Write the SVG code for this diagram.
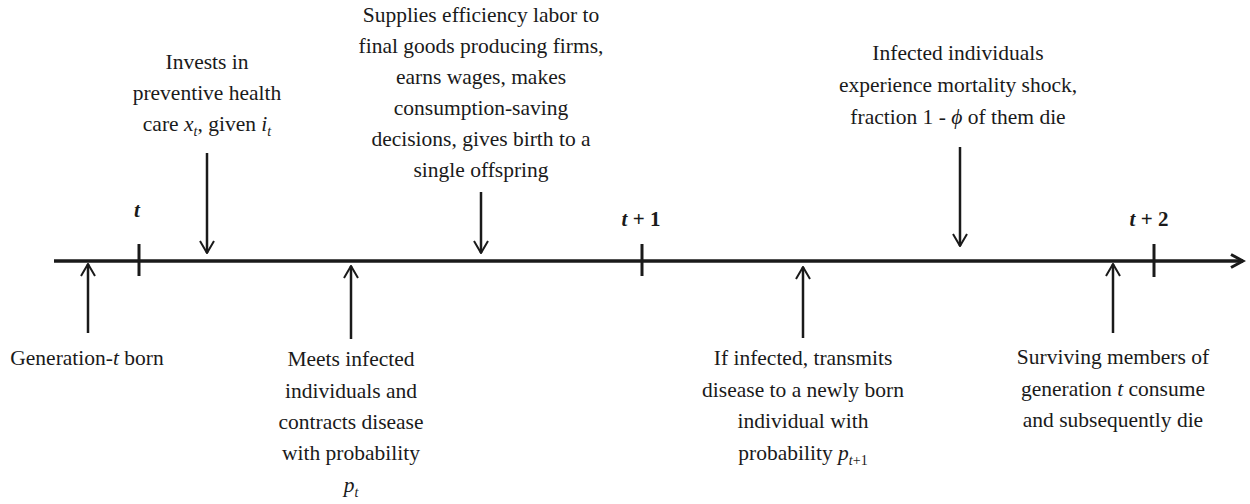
<svg xmlns="http://www.w3.org/2000/svg" width="1250" height="504" viewBox="0 0 1250 504">
  <style>
    .lbl { font-family: "Liberation Serif", "Times New Roman", serif; font-size: 21.5px; fill: #1a1a1a; text-anchor: middle; }
    .tick-lbl { font-family: "Liberation Serif", "Times New Roman", serif; font-size: 21px; font-weight: bold; fill: #1a1a1a; text-anchor: middle; }
    .it { font-style: italic; }
    .sub { font-size: 14px; }
    .arrow { stroke: #1a1a1a; stroke-width: 2.5; fill: none; marker-end: url(#head); }
    .axis { stroke: #1a1a1a; stroke-width: 3.5; fill: none; }
    .tick { stroke: #1a1a1a; stroke-width: 3; }
  </style>
  <defs>
    <marker id="head" markerUnits="userSpaceOnUse" viewBox="0 0 14 16" refX="13" refY="8" markerWidth="14" markerHeight="16" orient="auto">
      <path d="M1,1 L13,8 L1,15" fill="none" stroke="#1a1a1a" stroke-width="2"/>
    </marker>
    <marker id="axhead" markerUnits="userSpaceOnUse" viewBox="0 0 16 16" refX="13" refY="8" markerWidth="16" markerHeight="16" orient="auto">
      <path d="M1,1.5 L13,8 L1,14.5" fill="none" stroke="#1a1a1a" stroke-width="3"/>
    </marker>
  </defs>

  <g id="timeline">
    <line class="axis" x1="54" y1="261" x2="1243" y2="261" marker-end="url(#axhead)"/>
    <line class="tick" x1="139" y1="244" x2="139" y2="276"/>
    <line class="tick" x1="642" y1="244" x2="642" y2="276"/>
    <line class="tick" x1="1154" y1="244" x2="1154" y2="277"/>
  </g>

  <g id="tick-t">
    <text class="tick-lbl" x="137" y="217"><tspan class="it">t</tspan></text>
  </g>
  <g id="tick-t1">
    <text class="tick-lbl" x="641" y="226"><tspan class="it">t</tspan> + 1</text>
  </g>
  <g id="tick-t2">
    <text class="tick-lbl" x="1149" y="226"><tspan class="it">t</tspan> + 2</text>
  </g>

  <g id="node-invests">
    <text class="lbl" x="207" y="69">Invests in</text>
    <text class="lbl" x="207" y="100">preventive health</text>
    <text class="lbl" x="207" y="131">care <tspan class="it">x</tspan><tspan class="it sub" dy="5">t</tspan><tspan dy="-5">, given </tspan><tspan class="it">i</tspan><tspan class="it sub" dy="5">t</tspan></text>
  </g>

  <g id="node-supplies">
    <text class="lbl" x="481" y="22">Supplies efficiency labor to</text>
    <text class="lbl" x="481" y="53">final goods producing firms,</text>
    <text class="lbl" x="481" y="84">earns wages, makes</text>
    <text class="lbl" x="481" y="115">consumption-saving</text>
    <text class="lbl" x="481" y="146">decisions, gives birth to a</text>
    <text class="lbl" x="481" y="177">single offspring</text>
  </g>

  <g id="node-infected">
    <text class="lbl" x="958" y="60">Infected individuals</text>
    <text class="lbl" x="958" y="92">experience mortality shock,</text>
    <text class="lbl" x="958" y="124">fraction 1 - <tspan class="it">ϕ</tspan> of them die</text>
  </g>

  <g id="node-generation">
    <text class="lbl" x="87" y="365">Generation-<tspan class="it">t</tspan> born</text>
  </g>

  <g id="node-meets">
    <text class="lbl" x="351" y="366">Meets infected</text>
    <text class="lbl" x="351" y="398">individuals and</text>
    <text class="lbl" x="351" y="429">contracts disease</text>
    <text class="lbl" x="351" y="460">with probability</text>
    <text class="lbl" x="351" y="492"><tspan class="it">p</tspan><tspan class="it sub" dy="5">t</tspan></text>
  </g>

  <g id="node-transmits">
    <text class="lbl" x="803" y="365">If infected, transmits</text>
    <text class="lbl" x="803" y="397">disease to a newly born</text>
    <text class="lbl" x="803" y="428">individual with</text>
    <text class="lbl" x="803" y="460">probability <tspan class="it">p</tspan><tspan class="sub" dy="5"><tspan class="it">t</tspan>+1</tspan></text>
  </g>

  <g id="node-surviving">
    <text class="lbl" x="1113" y="364">Surviving members of</text>
    <text class="lbl" x="1113" y="396">generation <tspan class="it">t</tspan> consume</text>
    <text class="lbl" x="1113" y="427">and subsequently die</text>
  </g>

  <g id="connectors">
    <line class="arrow" x1="207" y1="153" x2="207" y2="253"/>
    <line class="arrow" x1="481" y1="192" x2="481" y2="253"/>
    <line class="arrow" x1="960" y1="147" x2="960" y2="246"/>
    <line class="arrow" x1="88" y1="333" x2="88" y2="264"/>
    <line class="arrow" x1="351" y1="339" x2="351" y2="266"/>
    <line class="arrow" x1="803" y1="338" x2="803" y2="267"/>
    <line class="arrow" x1="1113" y1="333" x2="1113" y2="264"/>
  </g>
</svg>
